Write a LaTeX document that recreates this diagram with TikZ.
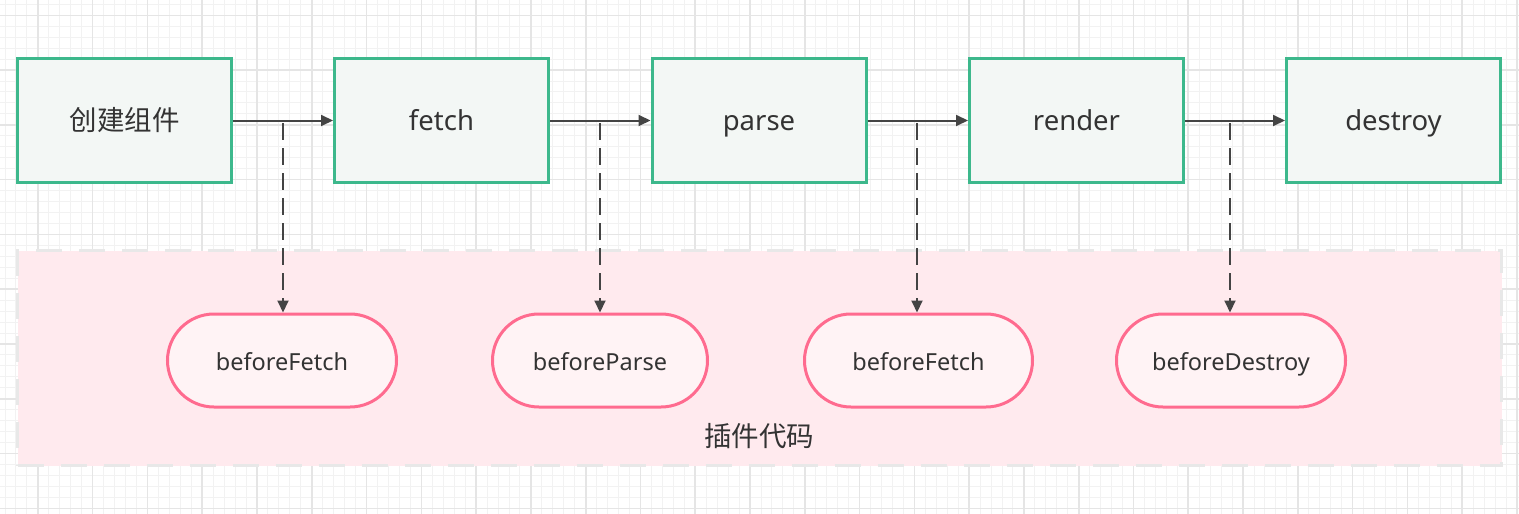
\documentclass[tikz,border=0pt]{standalone}
\usepackage{fontspec}
\setmainfont{Noto Sans}
\newfontfamily\cjk{Noto Sans CJK SC}
\usetikzlibrary{arrows.meta}

\definecolor{gridmajor}{RGB}{229,229,229}
\definecolor{gridminor}{RGB}{242,242,242}
\definecolor{boxgreen}{RGB}{61,184,140}
\definecolor{boxfill}{RGB}{243,247,245}
\definecolor{pillpink}{RGB}{255,107,143}
\definecolor{pillfill}{RGB}{255,243,245}
\definecolor{zonefill}{RGB}{255,234,238}
\definecolor{zoneborder}{RGB}{232,232,232}
\definecolor{ink}{RGB}{51,51,51}
\definecolor{linegray}{RGB}{68,68,68}

\tikzset{
  stepbox/.style={draw=boxgreen, fill=boxfill, line width=3pt, minimum width=214pt,
    minimum height=124pt, inner sep=0pt, text=ink, text height=26pt, text depth=6pt,
    font=\fontsize{27.5}{30}\selectfont},
  hook/.style={draw=pillpink, fill=pillfill, line width=3pt, minimum height=93pt,
    minimum width=229pt, rounded corners=46.5pt, inner sep=0pt, text=ink,
    text height=24pt, text depth=5pt, font=\fontsize{23.5}{26}\selectfont},
  flow/.style={draw=linegray, line width=2pt, -{Triangle[length=12pt,width=11pt]}},
  hookarrow/.style={flow, dash pattern=on 17pt off 8pt},
  zone/.style={draw=zoneborder, fill=zonefill, line width=3pt, dash pattern=on 26pt off 17pt,
    minimum width=1484pt, minimum height=215pt, inner sep=0pt},
  zonetext/.style={text=ink, font=\cjk\fontsize{27.5}{30}\selectfont, inner sep=0pt},
  minorline/.style={draw=gridminor, line width=1pt},
  majorline/.style={draw=gridmajor, line width=1.6pt}
}

\begin{document}
\begin{tikzpicture}[x=1pt,y=-1pt]
\useasboundingbox (0,0) rectangle (1519,514);
\fill[white] (0,0) rectangle (1519,514);
\begin{scope}
  \clip (0,0) rectangle (1519,514);
  \foreach \k in {0,...,138} {
    \pgfmathsetmacro\xx{5.03+\k*10.956}
    \draw[minorline] (\xx,0) -- (\xx,514);
  }
  \foreach \k in {0,...,46} {
    \pgfmathsetmacro\yy{4.34+\k*10.956}
    \draw[minorline] (0,\yy) -- (1519,\yy);
  }
  \foreach \k in {-1,...,27} {
    \pgfmathsetmacro\xx{37.9+\k*54.78}
    \draw[majorline] (\xx,0) -- (\xx,514);
  }
  \foreach \k in {0,...,9} {
    \pgfmathsetmacro\yy{15.3+\k*54.78}
    \draw[majorline] (0,\yy) -- (1519,\yy);
  }
\end{scope}

% plugin zone
\node[zone] (zone) at (759.5,358) {};
\node[zonetext] (zonelabel) at (759,436) {插件代码};

% lifecycle boxes
\node[stepbox] (b1) at (124.5,120.5) {\cjk 创建组件};
\node[stepbox] (b2) at (441.5,120.5) {fetch};
\node[stepbox] (b3) at (759,120.5) {parse};
\node[stepbox] (b4) at (1076.5,120.5) {render};
\node[stepbox] (b5) at (1393.5,120.5) {destroy};

\draw[flow] (b1.east) -- (b2.west);
\draw[flow] (b2.east) -- (b3.west);
\draw[flow] (b3.east) -- (b4.west);
\draw[flow] (b4.east) -- (b5.west);

% hooks
\node[hook] (p1) at (282,360.5) {beforeFetch};
\node[hook, minimum width=215pt] (p2) at (600,360.5) {beforeParse};
\node[hook, minimum width=228pt] (p3) at (918.5,360.5) {beforeFetch};
\node[hook] (p4) at (1231,360.5) {beforeDestroy};

\coordinate (h1) at (283,123);
\coordinate (h2) at (600,123);
\coordinate (h3) at (917,123);
\coordinate (h4) at (1230,123);

\draw[hookarrow] (h1) -- (h1 |- p1.north);
\draw[hookarrow] (h2) -- (h2 |- p2.north);
\draw[hookarrow] (h3) -- (h3 |- p3.north);
\draw[hookarrow] (h4) -- (h4 |- p4.north);
\end{tikzpicture}
\end{document}
